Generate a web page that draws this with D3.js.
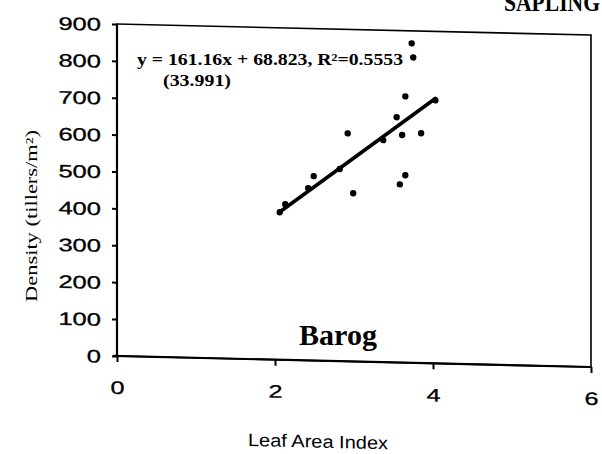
<!DOCTYPE html>
<html>
<head>
<meta charset="utf-8">
<script src="https://cdn.jsdelivr.net/npm/d3@7"></script>
<style>
  body { margin: 0; background: #fff; }
  svg { display: block; }
</style>
</head>
<body>
<svg id="svg" width="602" height="454"></svg>
<script>
// Leaf area index vs tiller density, Barog sapling plot
var lai     = [2.06, 2.13, 2.42, 2.49, 2.82, 2.92, 2.99, 3.37, 3.54, 3.58, 3.61, 3.65, 3.65, 3.73, 3.75, 3.85, 4.03];
var density = [400, 422, 467, 500, 521, 618, 456, 602, 665, 483, 617, 508, 722, 866, 828, 623, 713];

var xTicks = [0, 2, 4, 6];
var yTicks = [0, 100, 200, 300, 400, 500, 600, 700, 800, 900];

var fitSlope = 161.16;
var fitIntercept = 68.823;

var eqLabel = 'y = 161.16x + 68.823, R\u00b2=0.5553';
var seLabel = '(33.991)';
var siteLabel = 'Barog';
var titleLabel = 'SAPLING';

var CHART = (function() {
  var chart = {};
  var svg = d3.select('svg');

  var box = { left: 117, right: 591, top: 24, bottom: 356 };
  var skew = 1.33; // the scanned frame is tilted a bit
  var tanSkew = Math.tan(skew * Math.PI / 180);

  var x = d3.scaleLinear().domain([0, 6]).range([box.left, box.right]);
  var y = d3.scaleLinear().domain([0, 900]).range([box.bottom, box.top]);

  chart.init = function() {
    // title, clipped at the top of the page
    svg.append('text')
      .attr('x', 504).attr('y', 11)
      .attr('font-family', 'Liberation Serif')
      .attr('font-weight', 'bold')
      .attr('font-size', 26)
      .attr('textLength', 96).attr('lengthAdjust', 'spacingAndGlyphs')
      .text(titleLabel);

    var g = svg.append('g')
      .attr('transform', 'translate(0,' + (-box.left * tanSkew) + ') skewY(' + skew + ')');

    // frame
    g.append('rect')
      .attr('x', box.left).attr('y', box.top)
      .attr('width', box.right - box.left).attr('height', box.bottom - box.top)
      .attr('fill', 'none').attr('stroke', '#000').attr('stroke-width', 1.6);

    g.append('line')
      .attr('x1', box.left).attr('x2', box.left)
      .attr('y1', box.top).attr('y2', box.bottom)
      .attr('stroke', '#000').attr('stroke-width', 2.2);
    g.append('line')
      .attr('x1', box.left - 4).attr('x2', box.right)
      .attr('y1', box.bottom).attr('y2', box.bottom)
      .attr('stroke', '#000').attr('stroke-width', 2.2);

    var yAxis = g.append('g')
      .attr('transform', 'translate(' + box.left + ',0)')
      .call(d3.axisLeft(y).tickValues(yTicks).tickFormat(d3.format('d')).tickSize(5).tickSizeOuter(0));
    var xAxis = g.append('g')
      .attr('transform', 'translate(0,' + box.bottom + ')')
      .call(d3.axisBottom(x).tickValues(xTicks).tickFormat(d3.format('d')).tickSize(6).tickSizeOuter(0));

    [yAxis, xAxis].forEach(function(a) {
      a.select('.domain').remove();
      a.selectAll('line').attr('stroke', '#000').attr('stroke-width', 2);
      a.selectAll('text')
        .attr('fill', '#000')
        .attr('font-family', 'Liberation Sans')
        .attr('font-size', 18)
        .attr('stroke', '#000').attr('stroke-width', 0.3);
    });

    yAxis.selectAll('text')
      .attr('transform', 'scale(1.42,1)')
      .attr('x', -16 / 1.42)
      .attr('dy', '0.36em');
    xAxis.selectAll('text')
      .attr('transform', 'scale(1.4,1)')
      .attr('y', 38).attr('dy', 0);

    // x axis title
    g.append('text')
      .attr('x', 318).attr('y', 443)
      .attr('text-anchor', 'middle')
      .attr('font-family', 'Liberation Sans')
      .attr('font-size', 18)
      .attr('textLength', 140).attr('lengthAdjust', 'spacingAndGlyphs')
      .text('Leaf Area Index');

    // regression line
    var x0 = d3.min(lai), x1 = d3.max(lai);
    g.append('line')
      .attr('x1', x(x0)).attr('y1', y(fitSlope * x0 + fitIntercept))
      .attr('x2', x(x1)).attr('y2', y(fitSlope * x1 + fitIntercept))
      .attr('stroke', '#000').attr('stroke-width', 3.6).attr('stroke-linecap', 'round');

    g.selectAll('circle.pt').data(lai).enter().append('circle')
      .attr('class', 'pt')
      .attr('cx', function(d) { return x(d); })
      .attr('cy', function(d, i) { return y(density[i]); })
      .attr('r', 3.2)
      .attr('fill', '#000');

    // y axis title
    svg.append('text')
      .attr('transform', 'translate(37,216) rotate(-90)')
      .attr('text-anchor', 'middle')
      .attr('font-family', 'Liberation Serif')
      .attr('font-size', 16)
      .attr('textLength', 172).attr('lengthAdjust', 'spacingAndGlyphs')
      .text('Density (tillers/m\u00b2)');

    // equation
    svg.append('text')
      .attr('x', 137).attr('y', 65)
      .attr('font-family', 'Liberation Serif')
      .attr('font-weight', 'bold')
      .attr('font-size', 16)
      .attr('textLength', 266).attr('lengthAdjust', 'spacingAndGlyphs')
      .text(eqLabel);
    svg.append('text')
      .attr('x', 163).attr('y', 86)
      .attr('font-family', 'Liberation Serif')
      .attr('font-weight', 'bold')
      .attr('font-size', 16)
      .attr('textLength', 68).attr('lengthAdjust', 'spacingAndGlyphs')
      .text(seLabel);

    svg.append('text')
      .attr('x', 338).attr('y', 345)
      .attr('text-anchor', 'middle')
      .attr('font-family', 'Liberation Serif')
      .attr('font-weight', 'bold')
      .attr('font-size', 30)
      .text(siteLabel);
  };

  return chart;
})();

CHART.init();
</script>
</body>
</html>
